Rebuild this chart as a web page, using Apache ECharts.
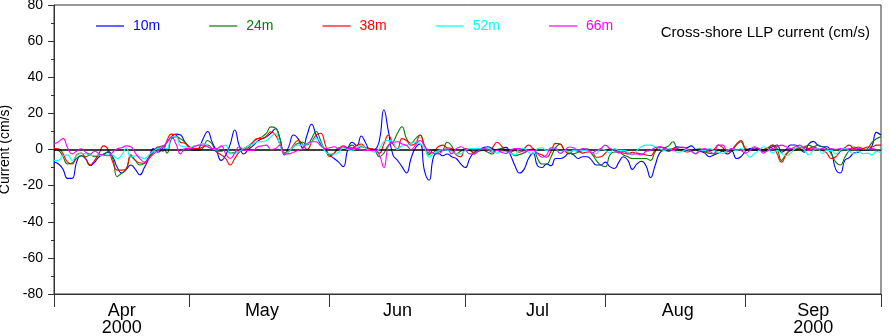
<!DOCTYPE html>
<html>
<head>
<meta charset="utf-8">
<script src="https://cdn.jsdelivr.net/npm/echarts@6/dist/echarts.min.js"></script>
<style>
  html, body { margin: 0; padding: 0; background: #fff; }
  #chart { width: 890px; height: 336px; }
</style>
</head>
<body>
<div id="chart"></div>
<script>
// Daily cross-shore low-pass current (cm/s), 1 Apr 2000 .. 1 Oct 2000
const startDate = '2000-04-01';
const seriesNames = ['10m', '24m', '38m', '52m', '66m'];
const seriesColors = ['#0000ff', '#008000', '#ff0000', '#00ffff', '#ff00ff'];
const monthLabels = ['Apr\n2000', 'May', 'Jun', 'Jul', 'Aug', 'Sep\n2000'];
const yTicks = { min: -80, max: 80, step: 20 };

const v10 = [-7,-8,-11,-16,-16,-7,-3.5,-5,-9,-7,-4,-2.5,-1.5,-4,-10,-13,-11,-8.6,-11,-14,
  -10,-5,0.5,-1.5,0.5,4,7,8.5,8,4,1,-0.5,0.5,6,10,4,-1,-6,-3,3,
  10.8,2,-2.5,0,2,4.5,6,7,9,11.5,6,-3,2,8,6,1,8,14,8,3,
  0,-3,-5,-7,-9.5,0,4,2,7.5,3.5,-0.5,0,5,22,10,-3,-6,-9.5,-13,-5,
  1,3,-12,-17,-4,-2,-3.5,-2.5,-4,-5,-8,-10,-5,-1.5,0,1,1.5,0.5,-0.5,0.5,
  1.2,-3,-9,-13,-11,-5,-2,-9,-10,-8,-9,-5,-5,-4,-2,-3,-5,-4,-4,-6,
  -8.6,-8.6,-7,-9.5,-10.5,-7,-4,-6,-11,-8,-6.5,-9,-15.6,-9,-2,-0.5,-1,0.5,1.5,1,
  1,2,0,-1,-2,-4,-3,-2,-1,-2.5,-1,-5,-4,-1,0.5,0.8,0,-1,0.3,1.5,
  2.5,-1.5,0,2.5,2.5,0.5,-1.5,3,4.5,2.5,1.5,1.5,-1.5,-11,-13,-6,-4.5,-2,-1.5,0,
  -0.3,2,9.5,8];

const v24 = [0,-0.5,-4,-8,-7.5,-5,-3.5,-4,-3,-4,-3.5,-3,-1,-5,-15,-13,-11,-4,-6,-8.6,
  -7.5,-4,-1,1,2,-2,6,7,6,4,1.5,0.5,-0.5,1,5,3,-1,-1,0,-2,
  -1.5,-1,0.5,2,4,6,7,9,12.5,12,6,-2,-1,1.5,3.5,4,2.5,6,10,5,
  -0.5,-3,-2,1,0,1,2.4,0.5,1.5,1,0.5,-0.5,-4,-2,2.4,4,9,12.6,6,3.4,
  6,8,2,-3,0,-1.4,-0.5,4,2,-2.4,-1,0.4,-0.5,-1.5,-1,-0.5,-1.5,-2.5,0,0.4,
  0,-1.5,-3.4,-2.8,-2,-0.5,0.4,-5,-8,-8,-4,1,3,-0.5,-2,-2.4,-1.5,-0.5,0.4,-2.4,
  -6,-8.6,-9.5,-3,-1.4,-1.5,-3,-4,-5,-5,-5,-5,-6,-1.4,1.4,1,2,4.3,0.4,0,
  0,-0.5,0,0.4,-1.4,-2,-2.4,-0.5,-0.5,-1,-0.5,2.4,4.3,0.4,0,-0.5,-0.5,0,1,2.4,
  0.5,-6,-2.4,-0.5,0.4,1,1.4,2.4,1.5,2.4,1.5,0.5,-2.4,-7,-8.6,-4.3,-0.5,1.4,0.5,-0.5,
  0.5,4,6,7];

const v38 = [0.5,0.4,-2.4,-7,-8,-3,-2,-5,-8.6,-6,-2,2,0,-7,-11.4,-11.4,-10.5,-3,-6,-7.5,
  -7.7,-4.5,-1.4,1.5,-1,5,8.5,8,4,3.4,1,0.5,0.5,1.5,2.4,0.5,-1.4,-3,-5,-8.6,
  -5,-1.5,0.4,1,4,6,6,7.5,9.8,8,3,-2,-1,2.5,5,3,0,4,8,9,
  3,-4,-2,0.5,2,1,1,2.4,3,1,0.5,0,-2,3,8,3,0.4,6,5,2.4,
  3.4,7.9,2,-2,-1.5,1.5,2.4,1,0.5,-3,-4,0.4,0,-2.4,-0.5,0.5,0,1,4,2,
  -1,-1.4,-0.5,-1.5,0.4,2.4,0.5,-2,-3,-4.3,-1,3.4,3,-0.5,-2.4,-0.5,-1,-2,-1.4,-1.4,
  -4.3,-4,-2,0.4,-0.5,-1,-2,-2.4,-1.5,-2,-2.4,-3,-3.4,-0.5,1.4,1,0,0.5,0,-0.5,
  -1.4,-1,-2.4,-0.5,-1.4,-0.5,0,2.4,1,-1.4,0,3,5,0.5,-0.5,0,0.5,0,0.5,2.4,
  -2.4,-7,-3,-0.5,-0.4,0.5,1.4,0.5,1.4,0.5,-0.5,-2,-5,-4,-1,1,2.4,0.5,1.4,0.5,
  1.4,1.4,2.4,2.4];

const v52 = [-6,-6,-3.5,-3,-6,-3.4,-2,-2.4,-3,-3.4,-3,-3.4,-2.5,-3,-5,-3,1,-4.3,-3.5,-4,
  -5,-3,-1,0.5,1,0.5,7,7,2,1.5,1,2,2.4,3.4,2,0.5,-0.4,1.5,2.4,-2.4,
  -2,-1,0.5,2,3,4.3,4.3,5,7,9,2.4,-2.4,-1,1.5,2.4,2.4,3,4,6,4,
  -1,-2.4,-2.5,-1.5,1,0,-0.5,1,2.4,0.5,-0.5,-1.5,0.5,4.3,5,4.3,0,2,2.4,3.4,
  4.3,3,1,-4.3,-2,-1,0,-0.5,-1,-2.4,-2.4,-0.5,0.5,0.5,0.5,0.5,0.5,-0.5,-2,-1,
  -1.4,-2,-3,0.5,0.5,-1.5,-2.5,0.5,1,-0.5,0.5,0.5,-2,-0.5,-1.5,-0.5,-0.5,-0.5,-0.5,-1.5,
  -2.2,0.5,-0.5,-2,0.5,-0.5,-0.5,-1.5,-3,-0.5,1.5,2.4,2.4,1.5,0.5,-0.5,0.5,-0.5,-1.5,-1,
  0,-1,-2.2,-0.5,-0.5,0.5,-0.5,-1.5,-2.2,-0.5,0.5,-0.5,0.5,-1.5,-4.3,-2.2,-0.5,1.5,0.5,-2,
  -0.5,-2.2,-3.4,-2,0.5,1.5,0,-3,-0.5,0.5,-2.2,-0.5,-0.5,-2.4,-0.4,0.5,-1,-2.4,-1,-2.4,
  -2,-3,-1,-2];

const v66 = [3,4.3,6,1,-2.4,-1,0.4,-1.5,-2.5,-1,-2.5,-3,-3.5,-1.5,0.4,1,2,1.5,-2,-5,
  -7,-5,-2.5,-0.5,1.5,4,7,3,-2.4,0.5,0.5,1.5,2.4,2.4,1.5,0.5,0.5,2,-2.4,-5,
  -2,1.5,-0.5,-0.5,-0.5,1.4,2,2.4,0,0.5,2.4,-2.4,-2.4,-1.5,-0.5,0.5,3.4,4.3,4.3,2,
  0.5,1,1.5,0.5,1.5,0.5,0.5,0.5,0,-0.5,-0.5,-0.5,-3,-10,2,4,4.3,3,2.4,0,
  2.4,5,2,-1,-2,-2.4,-0.5,0.4,-2.4,0.4,1.5,0,-2.4,-2.4,-0.5,0.5,0,-1.5,-0.5,-1.5,
  -2.2,-0.5,0.5,0.5,-1.5,-0.5,-0.5,-2.4,-4.3,-3,1,0.5,-2.2,-0.5,1.4,1,-0.5,0.5,0,-2,
  -0.5,0.5,2.4,0.5,-0.5,-2,-1,-2.2,-2.5,-2.4,-3,-1,-0.5,1,1.5,0.5,0,-0.5,1,1.4,
  0.5,-1,-2.2,-0.5,0.5,-1,-2.2,2.4,2.4,-0.5,0.5,0,-0.5,-2,-0.5,1.5,0.5,-2,-0.5,0.5,
  1.5,2.4,1.5,0.5,1.5,2.4,0.5,-0.5,0.5,0,0.5,0,0.5,0,0.5,0,0.5,0,0.5,0,
  0,0.5,0,0];

const values = [v10, v24, v38, v52, v66];

// Category axis: one entry per day
const dayCount = v10.length;
const days = [];
const monthStart = [];
for (let i = 0; i < dayCount; i++) {
  const d = new Date(Date.UTC(2000, 3, 1 + i));
  days.push(d.toISOString().slice(0, 10));
  monthStart.push(d.getUTCDate() === 1);
}
// label each month at the middle of its span
const startIdx = [];
monthStart.forEach((s, i) => { if (s) startIdx.push(i); });
const labelAt = {};
for (let m = 0; m < startIdx.length - 1; m++) {
  labelAt[Math.round((startIdx[m] + startIdx[m + 1]) / 2)] = monthLabels[m];
}

const font = 'Liberation Sans, Arial, Helvetica, sans-serif';
const axisColor = '#333';

const chart = echarts.init(document.getElementById('chart'), null, { renderer: 'canvas' });
chart.setOption({
  animation: false,
  backgroundColor: '#fff',
  textStyle: { fontFamily: font },
  grid: {
    left: 54, right: 9, top: 5, bottom: 42,
    outerBoundsMode: 'none', containLabel: false,
    show: true, borderColor: axisColor, borderWidth: 1, backgroundColor: 'transparent'
  },
  title: {
    text: 'Cross-shore LLP current (cm/s)',
    right: 20, top: 25, padding: 0,
    textStyle: { fontFamily: font, fontSize: 15, fontWeight: 'normal', color: '#000' }
  },
  legend: {
    left: 96, top: 19, padding: 0,
    icon: 'rect',
    itemWidth: 28, itemHeight: 1.2, itemGap: 49,
    textStyle: { fontFamily: font, fontSize: 14, padding: [0, 0, 0, 4] },
    data: seriesNames.map((n, i) => ({ name: n, itemStyle: { color: seriesColors[i] }, textStyle: { color: seriesColors[i] } }))
  },
  xAxis: {
    type: 'category',
    data: days,
    boundaryGap: false,
    axisLine: { onZero: false, lineStyle: { color: axisColor, width: 1 } },
    axisTick: {
      length: 13, inside: false,
      interval: (i) => monthStart[i],
      lineStyle: { color: axisColor }
    },
    axisLabel: {
      interval: (i) => labelAt[i] !== undefined,
      formatter: (val, i) => labelAt[i] || '',
      color: '#000', fontSize: 18, lineHeight: 17, margin: 9, fontFamily: font
    },
    splitLine: { show: false }
  },
  yAxis: {
    type: 'value',
    min: yTicks.min, max: yTicks.max, interval: yTicks.step,
    name: 'Current (cm/s)',
    nameLocation: 'middle', nameGap: 37,
    nameTextStyle: { fontFamily: font, fontSize: 14, color: '#000' },
    axisLine: { show: true, lineStyle: { color: axisColor } },
    axisTick: { show: true, length: 6, lineStyle: { color: axisColor } },
    minorTick: { show: true, splitNumber: 2, length: 3, lineStyle: { color: axisColor } },
    axisLabel: { color: '#000', fontSize: 14, margin: 11, fontFamily: font },
    splitLine: { show: false }
  },
  series: seriesNames.map((n, i) => ({
    name: n,
    type: 'line',
    data: values[i],
    smooth: 0.5,
    symbol: 'none',
    lineStyle: { color: seriesColors[i], width: 1.1 },
    itemStyle: { color: seriesColors[i] },
    z: 2 + i,
    markLine: i === 0 ? {
      silent: true, symbol: 'none', label: { show: false },
      lineStyle: { color: '#000', width: 1.5, type: 'solid' },
      data: [{ yAxis: 0 }]
    } : undefined
  }))
});
</script>
</body>
</html>
